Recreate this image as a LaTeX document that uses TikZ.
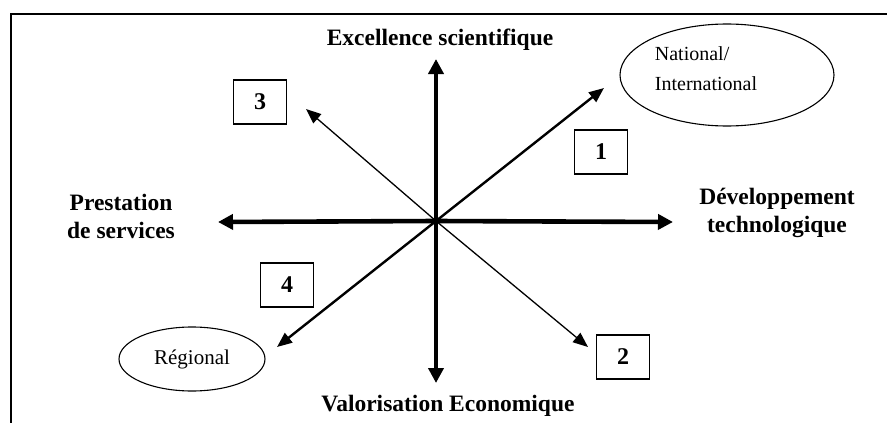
\documentclass[tikz,border=0pt]{standalone}
\usepackage{fontspec}
\setmainfont{Liberation Serif}
\usetikzlibrary{arrows.meta,shapes.geometric}

\begin{document}
\begin{tikzpicture}[x=1pt,y=-1pt,
  axis/.style={line width=4.6pt,-{Triangle[length=15pt,width=15pt]}},
  diag/.style={line width=2.4pt,-{Triangle[length=15pt,width=12pt]}},
  fineline/.style={line width=1.3pt,-{Triangle[length=15pt,width=12pt]}},
  numbox/.style={draw,line width=1.1pt,inner sep=0pt,minimum width=53pt,minimum height=44pt,
    font=\fontsize{24}{26}\selectfont\bfseries},
  zone/.style={draw,ellipse,line width=1.1pt,inner sep=0pt},
  axislabel/.style={font=\fontsize{23.5}{28}\selectfont\bfseries,align=center}]
\useasboundingbox (0,0) rectangle (887,423);

% Frame
\draw[line width=1.4pt] (11,423) -- (11,14) -- (887,14);

% Axes
\coordinate (o) at (436,221);
\coordinate (n) at (436,59);
\coordinate (s) at (436,383);
\coordinate (w) at (218,222);
\coordinate (e) at (673,222);
\draw[axis] (o) -- (n);
\draw[axis] (o) -- (s);
\draw[axis] (o) -- (w);
\draw[axis] (o) -- (e);

% Diagonals
\coordinate (ne) at (604,88);
\coordinate (sw) at (277,347);
\coordinate (nw) at (306,109);
\coordinate (se) at (588,347);
\draw[diag] (o) -- (ne);
\draw[diag] (o) -- (sw);
\draw[fineline] (o) -- (nw);
\draw[fineline] (o) -- (se);

% Axis labels
\node[axislabel] (excel) at (440,40) {Excellence scientifique};
\node[axislabel,anchor=base] (valor) at (448,411) {Valorisation Economique};
\node[axislabel] (prest) at (121,216) {Prestation\\de services};
\node[axislabel] (devel) at (777,213) {Développement\\technologique};

% Zones
\node[zone,minimum width=214pt,minimum height=102pt] (natl) at (727,75) {};
\node[font=\fontsize{20}{30}\selectfont,align=left] (natltxt) at (706,69) {National/\\International};
\node[zone,minimum width=146pt,minimum height=64pt,font=\fontsize{21}{22}\selectfont] (regl) at (192,359) {Régional};

% Quadrants
\node[numbox] (q1) at (601,152) {1};
\node[numbox] (q2) at (623,357) {2};
\node[numbox] (q3) at (260,102) {3};
\node[numbox] (q4) at (287,285) {4};
\end{tikzpicture}
\end{document}
